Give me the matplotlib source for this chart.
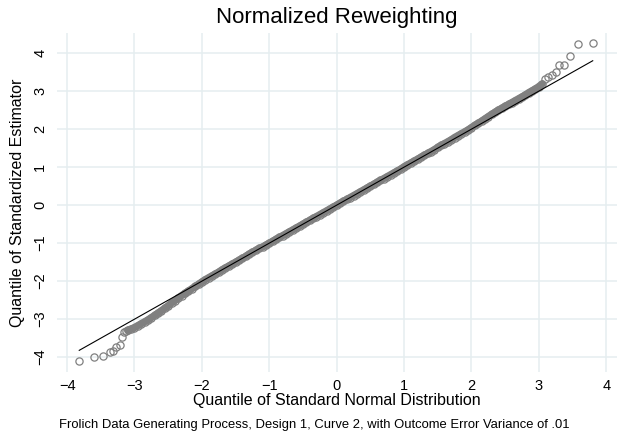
import matplotlib
matplotlib.use("Agg")
import matplotlib.pyplot as plt

plt.rcParams['font.family'] = ['Liberation Sans', 'DejaVu Sans']

# theoretical (standard normal) quantiles and sample quantiles
# lower tail
tail_lo_x = [-3.82, -3.60, -3.47, -3.37, -3.32, -3.27, -3.22, -3.18, -3.15, -3.12]
tail_lo_y = [-4.10, -3.99, -3.97, -3.87, -3.83, -3.73, -3.68, -3.47, -3.33, -3.30]

# body of the distribution (points overlap into a solid band)
body_x = [-3.10, -3.05, -3.00, -2.95, -2.90, -2.85, -2.80, -2.75, -2.70, -2.65,
          -2.60, -2.55, -2.50, -2.45, -2.40, -2.35, -2.30, -2.25, -2.20, -2.15,
          -2.10, -2.05, -2.00, -1.95, -1.90, -1.85, -1.80, -1.75, -1.70, -1.65,
          -1.60, -1.55, -1.50, -1.45, -1.40, -1.35, -1.30, -1.25, -1.20, -1.15,
          -1.10, -1.05, -1.00, -0.95, -0.90, -0.85, -0.80, -0.75, -0.70, -0.65,
          -0.60, -0.55, -0.50, -0.45, -0.40, -0.35, -0.30, -0.25, -0.20, -0.15,
          -0.10, -0.05, 0.00, 0.05, 0.10, 0.15, 0.20, 0.25, 0.30, 0.35,
          0.40, 0.45, 0.50, 0.55, 0.60, 0.65, 0.70, 0.75, 0.80, 0.85,
          0.90, 0.95, 1.00, 1.05, 1.10, 1.15, 1.20, 1.25, 1.30, 1.35,
          1.40, 1.45, 1.50, 1.55, 1.60, 1.65, 1.70, 1.75, 1.80, 1.85,
          1.90, 1.95, 2.00, 2.05, 2.10, 2.15, 2.20, 2.25, 2.30, 2.35,
          2.40, 2.45, 2.50, 2.55, 2.60, 2.65, 2.70, 2.75, 2.80, 2.85,
          2.90, 2.95, 3.00, 3.05]
body_y = [-3.29, -3.26, -3.22, -3.17, -3.12, -3.07, -3.02, -2.96, -2.90, -2.84,
          -2.78, -2.71, -2.65, -2.57, -2.51, -2.44, -2.38, -2.32, -2.26, -2.20,
          -2.14, -2.08, -2.02, -1.96, -1.91, -1.86, -1.81, -1.76, -1.70, -1.65,
          -1.60, -1.55, -1.50, -1.45, -1.40, -1.35, -1.29, -1.24, -1.19, -1.14,
          -1.10, -1.05, -1.00, -0.95, -0.90, -0.85, -0.80, -0.75, -0.70, -0.65,
          -0.60, -0.55, -0.50, -0.45, -0.40, -0.35, -0.30, -0.25, -0.20, -0.15,
          -0.10, -0.05, 0.00, 0.05, 0.10, 0.15, 0.20, 0.25, 0.30, 0.35,
          0.40, 0.45, 0.50, 0.55, 0.60, 0.65, 0.70, 0.75, 0.80, 0.85,
          0.90, 0.95, 1.01, 1.06, 1.11, 1.16, 1.21, 1.26, 1.31, 1.36,
          1.41, 1.46, 1.52, 1.57, 1.62, 1.67, 1.72, 1.78, 1.83, 1.88,
          1.93, 1.98, 2.04, 2.10, 2.15, 2.21, 2.27, 2.33, 2.39, 2.44,
          2.50, 2.55, 2.60, 2.65, 2.70, 2.75, 2.80, 2.85, 2.90, 2.96,
          3.01, 3.06, 3.12, 3.19]

# upper tail
tail_hi_x = [3.09, 3.14, 3.19, 3.25, 3.30, 3.37, 3.46, 3.58, 3.80]
tail_hi_y = [3.31, 3.36, 3.42, 3.51, 3.68, 3.68, 3.93, 4.24, 4.27]

ticks = [-4, -3, -2, -1, 0, 1, 2, 3, 4]

title = "Normalized Reweighting"
xlabel = "Quantile of Standard Normal Distribution"
ylabel = "Quantile of Standardized Estimator"
note = "Frolich Data Generating Process, Design 1, Curve 2, with Outcome Error Variance of .01"

qx = tail_lo_x + body_x + tail_hi_x
qy = tail_lo_y + body_y + tail_hi_y

mark_col = "#808080"

fig = plt.figure(figsize=(6.24, 4.41), dpi=100)
ax = fig.add_axes([57 / 624, 1 - 372 / 441, 560 / 624, 339 / 441])

grid_col = "#e5eef0"
for t in ticks:
    ax.axhline(t, color=grid_col, lw=1.1, zorder=0)
    ax.axvline(t, color=grid_col, lw=1.1, zorder=0)

# thousands of overlapping circles in the middle look like a solid band
ax.plot(body_x, body_y, color=mark_col, lw=5.3, solid_capstyle="round", zorder=1)
ax.plot(qx, qy, linestyle="none", marker="o", markersize=5.2,
        markerfacecolor="none", markeredgecolor=mark_col,
        markeredgewidth=0.9, zorder=2)

# reference line y = x across the range of the theoretical quantiles
lo, hi = min(qx), max(qx)
ax.plot([lo, hi], [lo, hi], color="black", lw=0.8, zorder=3)

ax.set_xlim(-4.15, 4.16)
ax.set_ylim(-4.39, 4.53)
ax.set_xticks(ticks)
ax.set_yticks(ticks)
ax.set_xticklabels(["\u2212" + str(-t) if t < 0 else str(t) for t in ticks], fontsize=10.5)
ax.set_yticklabels(["\u2212" + str(-t) if t < 0 else str(t) for t in ticks], fontsize=10.5,
                   rotation=90, va="center")
ax.tick_params(axis="x", length=0, pad=5)
ax.tick_params(axis="y", length=0, pad=7)
for s in ax.spines.values():
    s.set_visible(False)

ax.set_xlabel(xlabel, fontsize=11.5, labelpad=0)
ax.set_ylabel(ylabel, fontsize=11.5)
ax.yaxis.set_label_coords(-32 / 560, 0.5)
fig.text(337 / 624, 1 - 17 / 441, title, ha="center", va="center", fontsize=16)
fig.text(59 / 624, 1 - 425 / 441, note, ha="left", va="center", fontsize=9.35)

fig.savefig("out.png", dpi=100, facecolor="white")
